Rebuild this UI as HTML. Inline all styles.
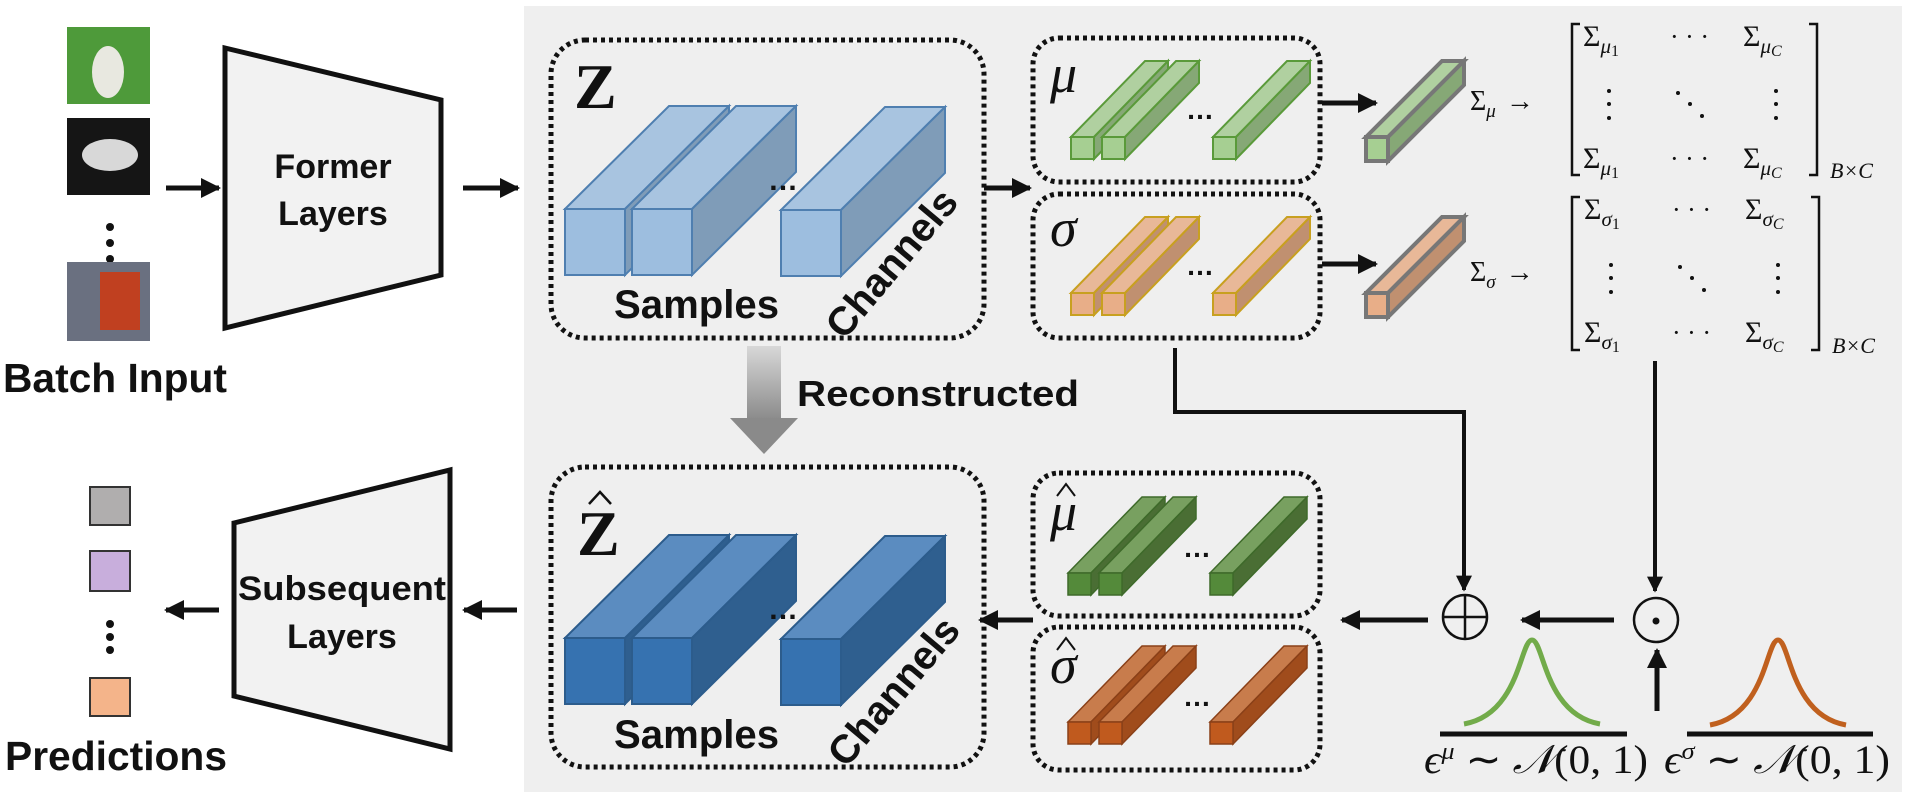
<!DOCTYPE html>
<html><head><meta charset="utf-8"><style>
html,body{margin:0;padding:0;background:#fff;}
svg{display:block;}
.b{font-family:"Liberation Sans",sans-serif;font-weight:bold;fill:#111;}
.m{font-family:"Liberation Serif",serif;fill:#111;}
</style></head><body>
<svg width="1910" height="802" viewBox="0 0 1910 802" xmlns="http://www.w3.org/2000/svg">
<defs>
<linearGradient id="ga" x1="0" y1="0" x2="0" y2="1"><stop offset="0" stop-color="#d8d8d8"/><stop offset="1" stop-color="#8a8a8a"/></linearGradient>
<marker id="ah" viewBox="0 0 10 10" refX="9" refY="5" markerWidth="4" markerHeight="4" orient="auto"><path d="M0,0 L10,5 L0,10 z" fill="#111"/></marker>
</defs>
<rect x="524" y="6" width="1378" height="786" fill="#efefef"/>

<!-- images -->
<rect x="67" y="27" width="83" height="77" fill="#4e9a3a"/><ellipse cx="108" cy="72" rx="16" ry="26" fill="#e8e8e0"/>
<rect x="67" y="118" width="83" height="77" fill="#151515"/><ellipse cx="110" cy="155" rx="28" ry="16" fill="#d8d8d8"/>
<circle cx="110" cy="227" r="4" fill="#111"/><circle cx="110" cy="243" r="4" fill="#111"/><circle cx="110" cy="259" r="4" fill="#111"/>
<rect x="67" y="262" width="83" height="79" fill="#6a7080"/><rect x="100" y="272" width="40" height="58" fill="#c04020"/>
<text class="b" x="3" y="392" font-size="41" textLength="224" lengthAdjust="spacingAndGlyphs">Batch Input</text>

<line x1="166" y1="188" x2="219" y2="188" stroke="#111" stroke-width="5" marker-end="url(#ah)"/>
<polygon points="225,48 441,100 441,275 225,328" fill="#f2f2f2" stroke="#111" stroke-width="5"/>
<text class="b" x="333" y="178" font-size="34" text-anchor="middle">Former</text>
<text class="b" x="333" y="225" font-size="34" text-anchor="middle">Layers</text>
<line x1="463" y1="188" x2="518" y2="188" stroke="#111" stroke-width="5" marker-end="url(#ah)"/>

<!-- predictions -->
<rect x="90" y="487" width="40" height="38" fill="#b0aeae" stroke="#333" stroke-width="2"/>
<rect x="90" y="551" width="40" height="40" fill="#c8aedc" stroke="#333" stroke-width="2"/>
<circle cx="110" cy="624" r="4" fill="#111"/><circle cx="110" cy="637" r="4" fill="#111"/><circle cx="110" cy="650" r="4" fill="#111"/>
<rect x="90" y="678" width="40" height="38" fill="#f4b48a" stroke="#333" stroke-width="2"/>
<text class="b" x="5" y="770" font-size="41" textLength="222" lengthAdjust="spacingAndGlyphs">Predictions</text>
<line x1="219" y1="610" x2="166" y2="610" stroke="#111" stroke-width="5" marker-end="url(#ah)"/>
<polygon points="234,523 450,470 450,749 234,696" fill="#f2f2f2" stroke="#111" stroke-width="5"/>
<text class="b" x="342" y="600" font-size="34" text-anchor="middle" textLength="208" lengthAdjust="spacingAndGlyphs">Subsequent</text>
<text class="b" x="342" y="648" font-size="34" text-anchor="middle">Layers</text>
<line x1="517" y1="610" x2="464" y2="610" stroke="#111" stroke-width="5" marker-end="url(#ah)"/>

<!-- dotted boxes -->
<g fill="none" stroke="#111" stroke-width="5" stroke-dasharray="4 4">
<rect x="551" y="40" width="433" height="298" rx="34"/>
<rect x="551" y="467" width="433" height="300" rx="34"/>
<rect x="1033" y="38" width="287" height="144" rx="26"/>
<rect x="1033" y="194" width="287" height="144" rx="26"/>
<rect x="1033" y="473" width="287" height="143" rx="26"/>
<rect x="1033" y="627" width="287" height="143" rx="26"/>
</g>

<!-- Z blocks -->
<g stroke="#4f7fb0" stroke-width="2">
<g><polygon points="565,209 669,106 729,106 625,209" fill="#a8c4e0"/><polygon points="625,209 729,106 729,172 625,275" fill="#7f9cb8"/><rect x="565" y="209" width="60" height="66" fill="#9dbedf"/></g>
<g><polygon points="632,209 736,106 796,106 692,209" fill="#a8c4e0"/><polygon points="692,209 796,106 796,172 692,275" fill="#7f9cb8"/><rect x="632" y="209" width="60" height="66" fill="#9dbedf"/></g>
<g><polygon points="781,210 885,107 945,107 841,210" fill="#a8c4e0"/><polygon points="841,210 945,107 945,173 841,276" fill="#7f9cb8"/><rect x="781" y="210" width="60" height="66" fill="#9dbedf"/></g>
</g>
<g stroke="#2c5c8c" stroke-width="2">
<g><polygon points="565,638 669,535 729,535 625,638" fill="#5b8cc0"/><polygon points="625,638 729,535 729,601 625,704" fill="#2f5f8f"/><rect x="565" y="638" width="60" height="66" fill="#3672b0"/></g>
<g><polygon points="632,638 736,535 796,535 692,638" fill="#5b8cc0"/><polygon points="692,638 796,535 796,601 692,704" fill="#2f5f8f"/><rect x="632" y="638" width="60" height="66" fill="#3672b0"/></g>
<g><polygon points="781,639 885,536 945,536 841,639" fill="#5b8cc0"/><polygon points="841,639 945,536 945,602 841,705" fill="#2f5f8f"/><rect x="781" y="639" width="60" height="66" fill="#3672b0"/></g>
</g>
<text class="b" x="768" y="190" font-size="30">…</text>
<text class="b" x="768" y="619" font-size="30">…</text>
<text class="m" x="574" y="108" font-size="64" font-weight="bold">Z</text>
<text class="m" x="577" y="555" font-size="64" font-weight="bold">Z</text>
<path d="M589,504 L600,492 L611,504" fill="none" stroke="#111" stroke-width="2.5"/>
<text class="b" x="614" y="318" font-size="40" textLength="165" lengthAdjust="spacingAndGlyphs">Samples</text>
<text class="b" x="614" y="748" font-size="40" textLength="165" lengthAdjust="spacingAndGlyphs">Samples</text>
<text class="b" font-size="40" text-anchor="middle" transform="translate(902,272) rotate(-50)">Channels</text>
<text class="b" font-size="40" text-anchor="middle" transform="translate(904,700) rotate(-50)">Channels</text>

<!-- reconstructed -->
<rect x="747" y="346" width="34" height="74" fill="url(#ga)"/>
<polygon points="730,418 798,418 764,454" fill="#8a8a8a"/>
<text class="b" x="797" y="406" font-size="36" textLength="282" lengthAdjust="spacingAndGlyphs">Reconstructed</text>

<line x1="984" y1="188" x2="1030" y2="188" stroke="#111" stroke-width="5" marker-end="url(#ah)"/>
<line x1="1033" y1="620" x2="980" y2="620" stroke="#111" stroke-width="5" marker-end="url(#ah)"/>

<!-- mu/sigma bars -->
<g stroke="#5a9a3a" stroke-width="2">
<g><polygon points="1071,137 1145,61 1168,61 1094,137" fill="#b0d0a0"/><polygon points="1094,137 1168,61 1168,83 1094,159" fill="#86a876"/><rect x="1071" y="137" width="23" height="22" fill="#a6cf92"/></g>
<g><polygon points="1102,137 1176,61 1199,61 1125,137" fill="#b0d0a0"/><polygon points="1125,137 1199,61 1199,83 1125,159" fill="#86a876"/><rect x="1102" y="137" width="23" height="22" fill="#a6cf92"/></g>
<g><polygon points="1213,137 1287,61 1310,61 1236,137" fill="#b0d0a0"/><polygon points="1236,137 1310,61 1310,83 1236,159" fill="#86a876"/><rect x="1213" y="137" width="23" height="22" fill="#a6cf92"/></g>
</g>
<g stroke="#c8a020" stroke-width="2" transform="translate(0,156)">
<g><polygon points="1071,137 1145,61 1168,61 1094,137" fill="#e8b898"/><polygon points="1094,137 1168,61 1168,83 1094,159" fill="#c09070"/><rect x="1071" y="137" width="23" height="22" fill="#e8ae88"/></g>
<g><polygon points="1102,137 1176,61 1199,61 1125,137" fill="#e8b898"/><polygon points="1125,137 1199,61 1199,83 1125,159" fill="#c09070"/><rect x="1102" y="137" width="23" height="22" fill="#e8ae88"/></g>
<g><polygon points="1213,137 1287,61 1310,61 1236,137" fill="#e8b898"/><polygon points="1236,137 1310,61 1310,83 1236,159" fill="#c09070"/><rect x="1213" y="137" width="23" height="22" fill="#e8ae88"/></g>
</g>
<g stroke="#3e6a2a" stroke-width="1.5" transform="translate(-3,436)">
<g><polygon points="1071,137 1145,61 1168,61 1094,137" fill="#78a060"/><polygon points="1094,137 1168,61 1168,83 1094,159" fill="#4a6e34"/><rect x="1071" y="137" width="23" height="22" fill="#548a3a"/></g>
<g><polygon points="1102,137 1176,61 1199,61 1125,137" fill="#78a060"/><polygon points="1125,137 1199,61 1199,83 1125,159" fill="#4a6e34"/><rect x="1102" y="137" width="23" height="22" fill="#548a3a"/></g>
<g><polygon points="1213,137 1287,61 1310,61 1236,137" fill="#78a060"/><polygon points="1236,137 1310,61 1310,83 1236,159" fill="#4a6e34"/><rect x="1213" y="137" width="23" height="22" fill="#548a3a"/></g>
</g>
<g stroke="#8a4018" stroke-width="1.5" transform="translate(-3,585)">
<g><polygon points="1071,137 1145,61 1168,61 1094,137" fill="#c87c4c"/><polygon points="1094,137 1168,61 1168,83 1094,159" fill="#a04c1c"/><rect x="1071" y="137" width="23" height="22" fill="#c05a1e"/></g>
<g><polygon points="1102,137 1176,61 1199,61 1125,137" fill="#c87c4c"/><polygon points="1125,137 1199,61 1199,83 1125,159" fill="#a04c1c"/><rect x="1102" y="137" width="23" height="22" fill="#c05a1e"/></g>
<g><polygon points="1213,137 1287,61 1310,61 1236,137" fill="#c87c4c"/><polygon points="1236,137 1310,61 1310,83 1236,159" fill="#a04c1c"/><rect x="1213" y="137" width="23" height="22" fill="#c05a1e"/></g>
</g>
<g class="b" font-size="28"><text x="1186" y="119">…</text><text x="1186" y="275">…</text><text x="1183" y="557">…</text><text x="1183" y="706">…</text></g>
<g class="m" font-style="italic" font-size="54">
<text x="1050" y="92">μ</text><text x="1050" y="246">σ</text><text x="1050" y="530">μ</text><text x="1050" y="683">σ</text>
</g>
<path d="M1057,496 L1066,484 L1075,496" fill="none" stroke="#111" stroke-width="2"/>
<path d="M1057,650 L1066,638 L1075,650" fill="none" stroke="#111" stroke-width="2"/>

<!-- single bars -->
<line x1="1322" y1="103" x2="1376" y2="103" stroke="#111" stroke-width="5" marker-end="url(#ah)"/>
<line x1="1322" y1="264" x2="1376" y2="264" stroke="#111" stroke-width="5" marker-end="url(#ah)"/>
<g stroke="#777" stroke-width="4">
<polygon points="1366,137 1442,61 1464,61 1388,137" fill="#b0d0a0"/><polygon points="1388,137 1464,61 1464,85 1388,161" fill="#86a876"/><rect x="1366" y="137" width="22" height="24" fill="#a6cf92"/>
<g transform="translate(0,156)"><polygon points="1366,137 1442,61 1464,61 1388,137" fill="#e8b898"/><polygon points="1388,137 1464,61 1464,85 1388,161" fill="#c09070"/><rect x="1366" y="137" width="22" height="24" fill="#e8ae88"/></g>
</g>
<g class="m" font-size="28">
<text x="1470" y="110">Σ<tspan font-style="italic" font-size="19" dy="7">μ</tspan><tspan dy="-7" dx="10">→</tspan></text>
<text x="1470" y="281">Σ<tspan font-style="italic" font-size="19" dy="7">σ</tspan><tspan dy="-7" dx="10">→</tspan></text>
</g>

<!-- matrices -->
<g fill="none" stroke="#111" stroke-width="2.5">
<path d="M1580,24 L1572,24 L1572,175 L1580,175"/><path d="M1809,24 L1817,24 L1817,175 L1809,175"/>
<path d="M1580,197 L1572,197 L1572,350 L1580,350"/><path d="M1811,197 L1819,197 L1819,350 L1811,350"/>
</g>
<g class="m" font-size="30">
<text x="1583" y="46">Σ<tspan font-style="italic" font-size="21" dy="7">μ</tspan><tspan font-size="16" dy="3">1</tspan></text>
<text x="1743" y="46">Σ<tspan font-style="italic" font-size="21" dy="7">μ</tspan><tspan font-style="italic" font-size="16" dy="3">C</tspan></text>
<text x="1583" y="168">Σ<tspan font-style="italic" font-size="21" dy="7">μ</tspan><tspan font-size="16" dy="3">1</tspan></text>
<text x="1743" y="168">Σ<tspan font-style="italic" font-size="21" dy="7">μ</tspan><tspan font-style="italic" font-size="16" dy="3">C</tspan></text>
<text x="1670" y="45" font-size="26">· · ·</text><text x="1670" y="167" font-size="26">· · ·</text>
<text x="1584" y="219">Σ<tspan font-style="italic" font-size="21" dy="7">σ</tspan><tspan font-size="16" dy="3">1</tspan></text>
<text x="1745" y="219">Σ<tspan font-style="italic" font-size="21" dy="7">σ</tspan><tspan font-style="italic" font-size="16" dy="3">C</tspan></text>
<text x="1584" y="342">Σ<tspan font-style="italic" font-size="21" dy="7">σ</tspan><tspan font-size="16" dy="3">1</tspan></text>
<text x="1745" y="342">Σ<tspan font-style="italic" font-size="21" dy="7">σ</tspan><tspan font-style="italic" font-size="16" dy="3">C</tspan></text>
<text x="1672" y="218" font-size="26">· · ·</text><text x="1672" y="341" font-size="26">· · ·</text>
<text x="1830" y="178" font-style="italic" font-size="22">B×C</text>
<text x="1832" y="353" font-style="italic" font-size="22">B×C</text>
</g>
<g fill="#111">
<circle cx="1609" cy="91" r="2"/><circle cx="1609" cy="104" r="2"/><circle cx="1609" cy="118" r="2"/>
<circle cx="1678" cy="93" r="2"/><circle cx="1690" cy="104" r="2"/><circle cx="1702" cy="116" r="2"/>
<circle cx="1776" cy="91" r="2"/><circle cx="1776" cy="104" r="2"/><circle cx="1776" cy="118" r="2"/>
<g transform="translate(2,174)">
<circle cx="1609" cy="91" r="2"/><circle cx="1609" cy="104" r="2"/><circle cx="1609" cy="118" r="2"/>
<circle cx="1678" cy="93" r="2"/><circle cx="1690" cy="104" r="2"/><circle cx="1702" cy="116" r="2"/>
<circle cx="1776" cy="91" r="2"/><circle cx="1776" cy="104" r="2"/><circle cx="1776" cy="118" r="2"/>
</g>
</g>

<!-- connectors -->
<polyline points="1175,348 1175,412 1464,412 1464,590" fill="none" stroke="#111" stroke-width="4" marker-end="url(#ah)"/>
<line x1="1655" y1="361" x2="1655" y2="591" stroke="#111" stroke-width="4" marker-end="url(#ah)"/>
<line x1="1657" y1="711" x2="1657" y2="650" stroke="#111" stroke-width="5" marker-end="url(#ah)"/>
<line x1="1614" y1="620" x2="1522" y2="620" stroke="#111" stroke-width="5" marker-end="url(#ah)"/>
<line x1="1428" y1="620" x2="1342" y2="620" stroke="#111" stroke-width="5" marker-end="url(#ah)"/>
<circle cx="1465" cy="617" r="22" fill="none" stroke="#111" stroke-width="2.5"/>
<line x1="1443" y1="617" x2="1487" y2="617" stroke="#111" stroke-width="2.5"/><line x1="1465" y1="595" x2="1465" y2="639" stroke="#111" stroke-width="2.5"/>
<circle cx="1656" cy="620" r="22" fill="none" stroke="#111" stroke-width="2.5"/><circle cx="1656" cy="621" r="3.5" fill="#111"/>

<!-- gaussians -->
<path d="M1464,724 C1520,714 1520,640 1532,640 C1544,640 1544,714 1600,724" fill="none" stroke="#72ab4a" stroke-width="5"/>
<path d="M1710,725 C1766,715 1766,640 1778,640 C1790,640 1790,715 1846,725" fill="none" stroke="#c0601e" stroke-width="5"/>
<line x1="1440" y1="734" x2="1627" y2="734" stroke="#111" stroke-width="5"/>
<line x1="1687" y1="734" x2="1873" y2="734" stroke="#111" stroke-width="5"/>
<g class="m" font-size="40">
<text x="1424" y="773" textLength="224" lengthAdjust="spacingAndGlyphs"><tspan font-style="italic">ϵ</tspan><tspan font-style="italic" font-size="24" dy="-14">μ</tspan><tspan dy="14"> ∼ </tspan><tspan font-style="italic">𝒩</tspan>(0, 1)</text>
<text x="1664" y="773" textLength="226" lengthAdjust="spacingAndGlyphs"><tspan font-style="italic">ϵ</tspan><tspan font-style="italic" font-size="24" dy="-14">σ</tspan><tspan dy="14"> ∼ </tspan><tspan font-style="italic">𝒩</tspan>(0, 1)</text>
</g>
</svg>
</body></html>
